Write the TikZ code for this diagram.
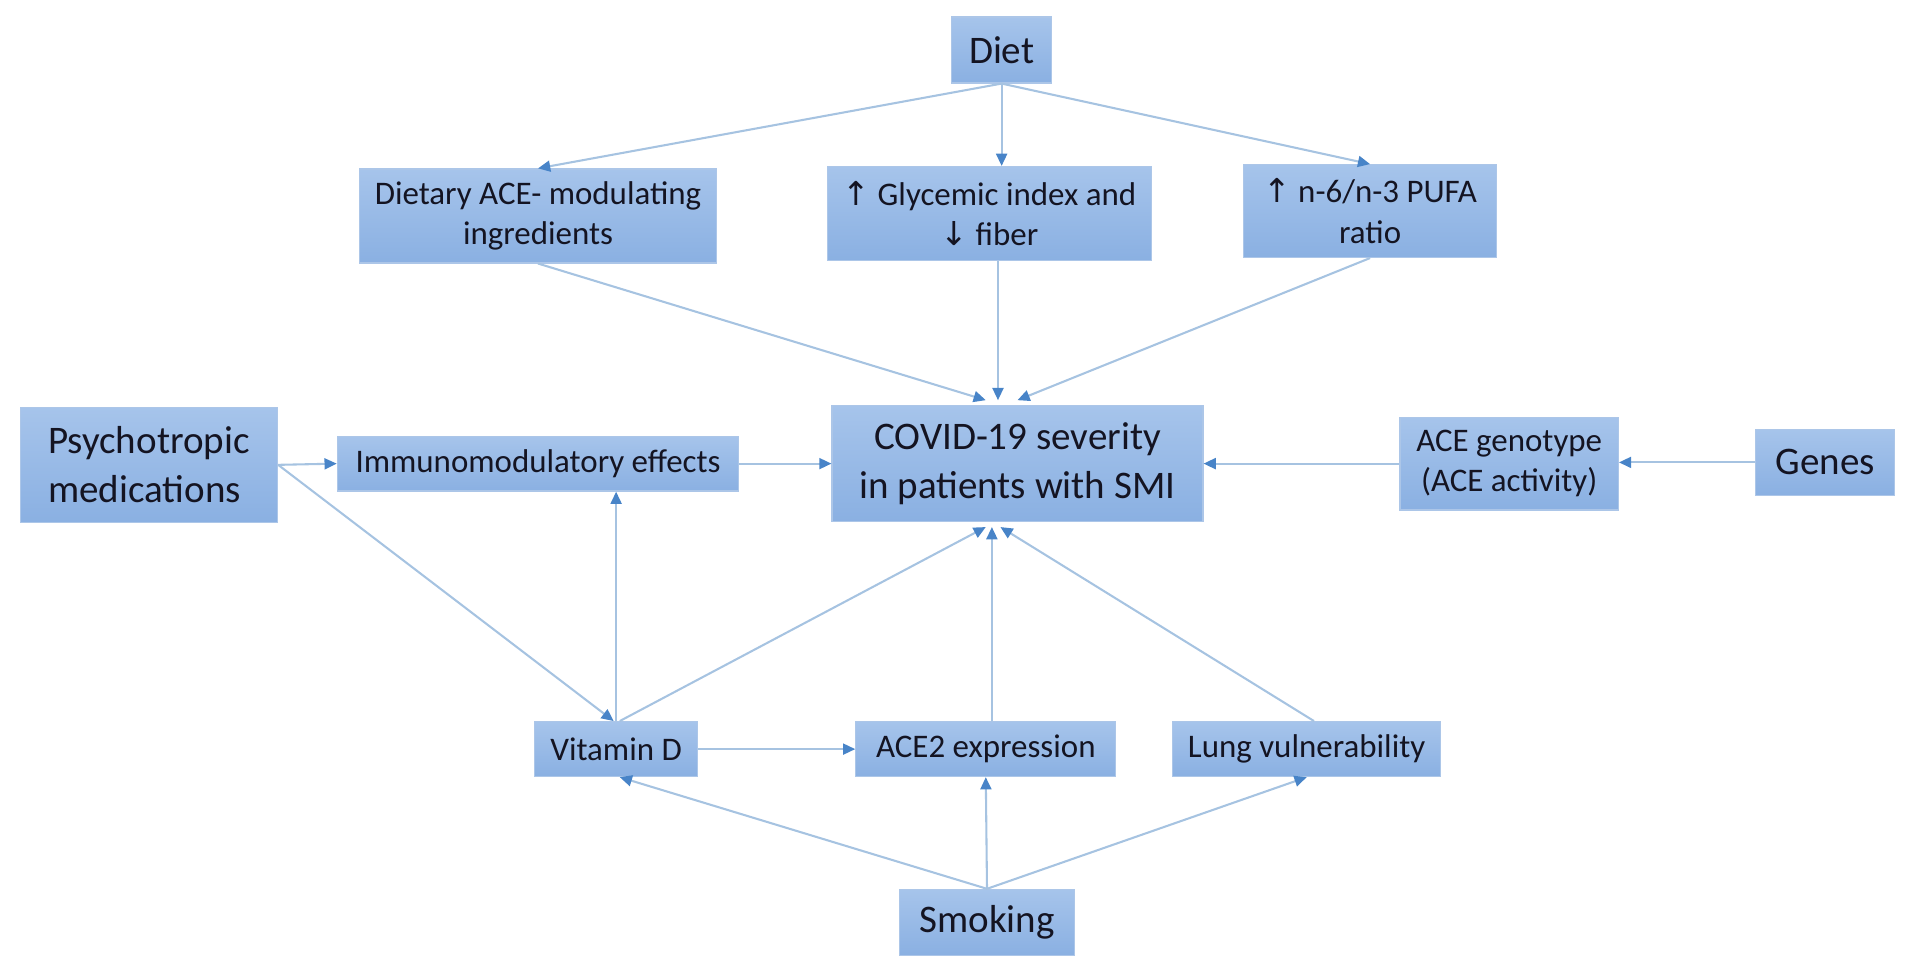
\documentclass[tikz,border=0pt]{standalone}
\usepackage{fontspec}
\setmainfont{Carlito}
\newfontfamily\arrowfont{DejaVu Sans}
\usetikzlibrary{arrows.meta}

\definecolor{boxtop}{RGB}{166,196,235}
\definecolor{boxbot}{RGB}{138,176,226}
\definecolor{boxline}{RGB}{172,198,232}
\definecolor{linkline}{RGB}{166,195,225}
\definecolor{tipblue}{RGB}{72,132,200}
\definecolor{textdark}{RGB}{20,20,34}

\newcommand{\uarr}{{\arrowfont ↑}}
\newcommand{\darr}{{\arrowfont ↓}}

\begin{document}
\begin{tikzpicture}[x=0.5pt,y=-0.5pt,
    box/.style={draw=boxline, line width=0.5pt, top color=boxtop, bottom color=boxbot,
      text=textdark, inner sep=2pt, align=center},
    bigbox/.style={box, font=\fontsize{16}{20}\selectfont},
    smallbox/.style={box, font=\fontsize{13.5}{16.5}\selectfont},
    arrow/.style={draw=linkline, line width=0.85pt,
      -{Triangle[width=4.5pt,length=5pt,color=tipblue]}}]
        \useasboundingbox (0,0) rectangle (1568,800);
        % draw nodes, top row
        \node[bigbox, minimum width=41pt, minimum height=27pt] (diet) at (821,41) {Diet};
        \node[smallbox, minimum width=146.5pt, minimum height=38.5pt] (dietary) at (441,177) {Dietary ACE- modulating\\ingredients};
        \node[smallbox, minimum width=133pt, minimum height=38.5pt] (glycemic) at (811,175) {\uarr\ Glycemic index and\\\darr\ fiber};
        \node[smallbox, minimum width=103.5pt, minimum height=38pt] (pufa) at (1123,173) {\uarr\ n-6/n-3 PUFA\\ratio};
        % draw nodes, middle row
        \node[bigbox, minimum width=105.5pt, minimum height=47pt, align=left] (psych) at (122,381) {Psychotropic\\medications};
        \node[smallbox, minimum width=164.5pt, minimum height=22.5pt] (immuno) at (441,380) {Immunomodulatory effects};
        \node[bigbox, minimum width=152pt, minimum height=47.5pt] (covid) at (834,380) {COVID-19 severity\\in patients with SMI};
        \node[smallbox, minimum width=89.5pt, minimum height=38pt] (genotype) at (1237,380) {ACE genotype\\(ACE activity)};
        \node[bigbox, minimum width=57pt, minimum height=27pt] (genes) at (1496,379) {Genes};
        % draw nodes, bottom rows
        \node[smallbox, minimum width=67pt, minimum height=22.5pt] (vitd) at (505,614) {Vitamin D};
        \node[smallbox, minimum width=106.5pt, minimum height=22.5pt] (ace2) at (808,614) {ACE2 expression};
        \node[smallbox, minimum width=110pt, minimum height=22.5pt] (lung) at (1071,614) {Lung vulnerability};
        \node[bigbox, minimum width=72pt, minimum height=27pt] (smoking) at (809,756) {Smoking};
        % draw arrows from diet
        \foreach \t in {dietary, pufa}{
          \draw[arrow] (diet.south) -- (\t.north);
        }
        \draw[arrow] (diet.south) -- ([xshift=5pt]glycemic.north);
        \draw[arrow] (dietary.south) -- ([xshift=-13pt,yshift=2pt]covid.north);
        \draw[arrow] ([xshift=3.5pt]glycemic.south) -- ([xshift=-8pt,yshift=2pt]covid.north);
        \draw[arrow] (pufa.south) -- ([yshift=2pt]covid.north);
        % draw arrows in the middle row
        \draw[arrow] (psych.east) -- (immuno.west);
        \draw[arrow] (immuno.east) -- (covid.west);
        \draw[arrow] (genotype.west) -- (covid.west -| covid.east);
        \draw[arrow] (genes.west) -- (genes.west -| genotype.east);
        \draw[arrow] (psych.east) -- ([xshift=-1pt]vitd.north);
        % draw arrows from the bottom row
        \draw[arrow] (vitd.north) -- (vitd.north |- immuno.south);
        \draw[arrow] ([xshift=1.5pt]vitd.north) -- ([xshift=-13pt,yshift=-2pt]covid.south);
        \draw[arrow] ([xshift=2.5pt]ace2.north) -- ([xshift=-10.5pt,yshift=-2pt]covid.south);
        \draw[arrow] ([xshift=3pt]lung.north) -- ([xshift=-7pt,yshift=-2pt]covid.south);
        \draw[arrow] (vitd.east) -- (ace2.west);
        % draw arrows from smoking
        \draw[arrow] (smoking.north) -- ([xshift=1.5pt]vitd.south);
        \draw[arrow] (smoking.north) -- (ace2.south);
        \draw[arrow] (smoking.north) -- (lung.south);
      \end{tikzpicture}
\end{document}
